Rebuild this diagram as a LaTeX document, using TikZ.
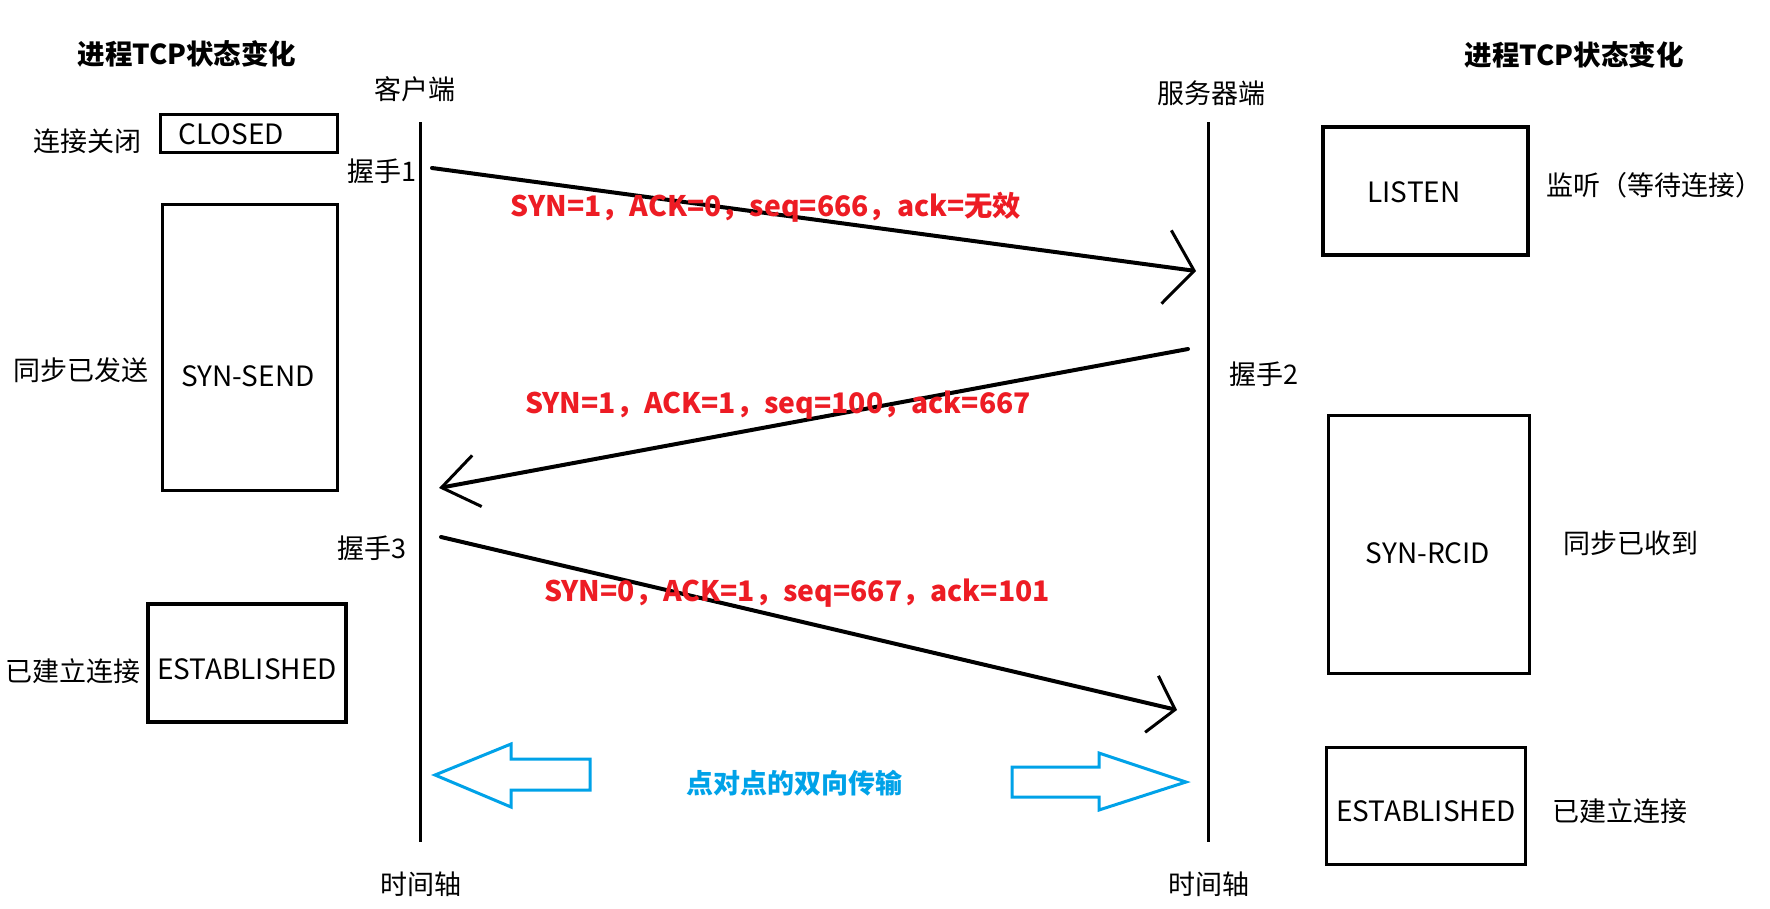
\documentclass[tikz,border=0pt]{standalone}
\usepackage{fontspec}
\setmainfont{Noto Sans CJK SC}
\usetikzlibrary{arrows.meta}
\definecolor{msgred}{HTML}{ED1C24}
\definecolor{msgblue}{HTML}{00A2E8}
\begin{document}
\begin{tikzpicture}[x=1pt,y=-1pt,
  every node/.style={inner sep=0pt, outer sep=0pt},
  cjk/.style={font=\fontsize{27}{30}\selectfont},
  title/.style={font=\fontsize{27.5}{30}\selectfont\bfseries},
  statetext/.style={font=\fontsize{28}{30}\selectfont},
  statebox/.style={draw, line width=3.8pt},
  msglabel/.style={font=\fontsize{28.3}{30}\selectfont\bfseries, text=msgred},
  timeline/.style={line width=3pt},
  msg/.style={line width=4pt, line cap=round},
  bigarrow/.style={draw=msgblue, line width=3pt, line join=miter, fill=white}
]
\useasboundingbox (0,0) rectangle (1770,908);

% titles
\node[title] (tL) at (187,54) {进程TCP状态变化};
\node[title] (tR) at (1574,55) {进程TCP状态变化};
\node[cjk] (client) at (415,89) {客户端};
\node[cjk] (server) at (1211,93) {服务器端};

% time lines
\coordinate (cTop) at (420,122);
\coordinate (cBot) at (420,842);
\coordinate (sTop) at (1208,122);
\coordinate (sBot) at (1208,842);
\draw[timeline] (cTop) -- (cBot);
\draw[timeline] (sTop) -- (sBot);
\node[cjk] (tAxisL) at (421,884) {时间轴};
\node[cjk] (tAxisR) at (1209,884) {时间轴};

% left states
\node[statebox, minimum width=177pt, minimum height=38pt] (closed) at (249,133.5) {};
\node[statetext] (closedT) at (231,134) {CLOSED};
\node[cjk] (closedL) at (88,141) {连接关闭};

\node[statebox, minimum width=175pt, minimum height=286pt] (synsend) at (250,347.5) {};
\node[statetext] (synsendT) at (248,376) {SYN-SEND};
\node[cjk] (synsendL) at (81,370) {同步已发送};

\node[statebox, minimum width=198pt, minimum height=118pt] (estL) at (247,663) {};
\node[statetext] (estLT) at (247,669) {ESTABLISHED};
\node[cjk] (estLL) at (73,671) {已建立连接};

% right states
\node[statebox, minimum width=205pt, minimum height=128pt] (listen) at (1425.5,191) {};
\node[statetext] (listenT) at (1414,192) {LISTEN};
\node[cjk] (listenL) at (1654,185) {监听（等待连接）};

\node[statebox, minimum width=201pt, minimum height=258pt] (synrcid) at (1429,544.5) {};
\node[statetext] (synrcidT) at (1428,553) {SYN-RCID};
\node[cjk] (synrcidL) at (1631,543) {同步已收到};

\node[statebox, minimum width=199pt, minimum height=117pt] (estR) at (1426,806) {};
\node[statetext] (estRT) at (1426,811) {ESTABLISHED};
\node[cjk] (estRL) at (1620,811) {已建立连接};

% handshake labels
\node[cjk] (hs1) at (381.5,171) {握手1};
\node[cjk] (hs2) at (1264,374) {握手2};
\node[cjk] (hs3) at (372,548) {握手3};

% messages
\coordinate (m1s) at (432,168);
\coordinate (m1e) at (1196,271);
\coordinate (m2s) at (1188,349);
\coordinate (m2e) at (439,488);
\coordinate (m3s) at (441,537);
\coordinate (m3e) at (1177,710);
\draw[msg, -{Straight Barb[length=28pt,width=74pt,line width=3pt]}] (m1s) -- (m1e);
\draw[msg, -{Straight Barb[length=36pt,width=52pt,line width=3pt]}] (m2s) -- (m2e);
\draw[msg, -{Straight Barb[length=24pt,width=58pt,line width=3pt]}] (m3s) -- (m3e);
\node[msglabel] (lab1) at (766,207) {SYN=1，ACK=0，seq=666，ack=无效};
\node[msglabel] (lab2) at (778,405) {SYN=1，ACK=1，seq=100，ack=667};
\node[msglabel] (lab3) at (797,593) {SYN=0，ACK=1，seq=667，ack=101};

% bidirectional transfer
\draw[bigarrow] (435,775) -- (511,744) -- (511,759) -- (590,759) -- (590,790) -- (511,790) -- (511,807) -- cycle;
\draw[bigarrow] (1186,782) -- (1099,753) -- (1099,767) -- (1012,767) -- (1012,797) -- (1099,797) -- (1099,810) -- cycle;
\node[font=\fontsize{27}{30}\selectfont\bfseries, text=msgblue] (bidir) at (794,783) {点对点的双向传输};
\end{tikzpicture}
\end{document}
